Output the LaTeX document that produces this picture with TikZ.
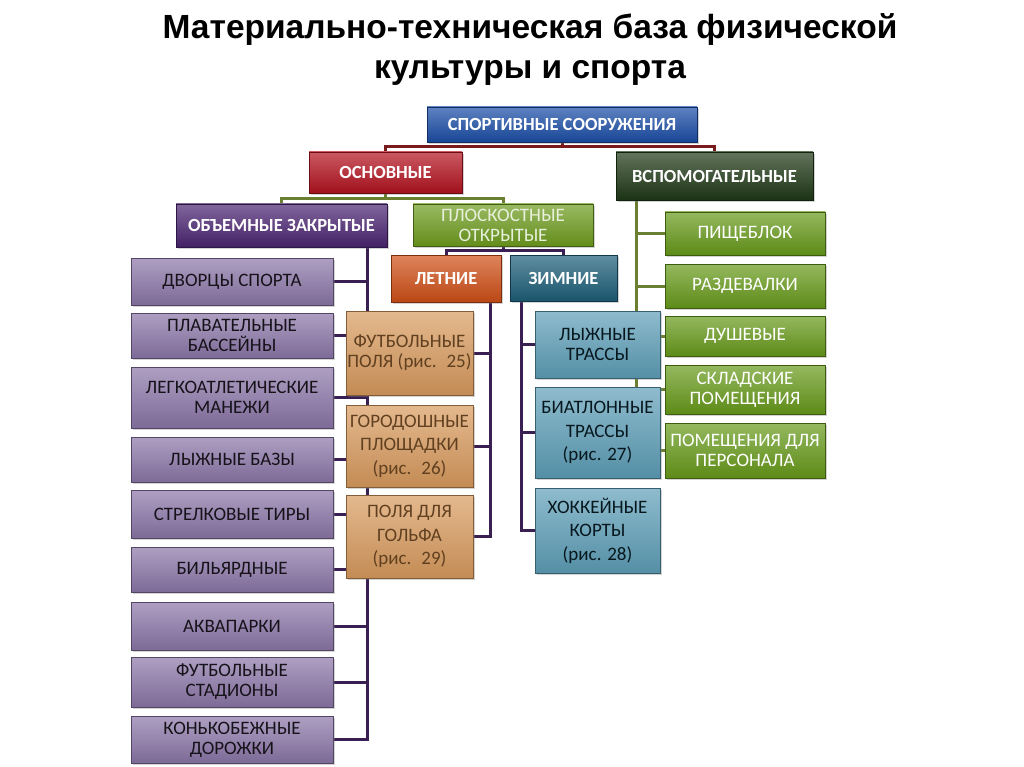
\documentclass[tikz,border=0pt]{standalone}
\usepackage{fontspec}
\setmainfont{Carlito}
\newfontfamily\titlefont{Liberation Sans}
\usetikzlibrary{shadows}
\pgfdeclarelayer{bg}
\pgfsetlayers{bg,main}
\definecolor{cblue}{HTML}{1A4DA6}
\definecolor{cred}{HTML}{B3121F}
\definecolor{cdkgreen}{HTML}{1F3816}
\definecolor{cpurple}{HTML}{4A2471}
\definecolor{colive}{HTML}{6E9C1E}
\definecolor{corred}{HTML}{CF4F17}
\definecolor{cteal}{HTML}{1C5E78}
\definecolor{clav}{HTML}{8B76A8}
\definecolor{corange}{HTML}{D99B5E}
\definecolor{cltteal}{HTML}{5E9FB8}
\definecolor{cgreen}{HTML}{679A1A}
\definecolor{lpurple}{HTML}{3A1F52}
\definecolor{lolive}{HTML}{6B7F30}
\definecolor{lred}{HTML}{7A1A1A}
\newcommand\bx[7]{\node[#6, minimum width={#4-#2}, minimum height={#5-#3}] (#1) at ({(#2+#4)/2},{(#3+#5)/2}) {#7};}
\begin{document}
\begin{tikzpicture}[x=1pt,y=-1pt,
  box/.style={rectangle, inner sep=0pt, outer sep=0pt, align=center,
    top color=#1!70!white, bottom color=#1!90!black, draw=#1!60!black, line width=0.6pt,
    drop shadow={opacity=0.35, shadow xshift=2pt, shadow yshift=-2pt}},
  lbl/.style={font=\fontsize{19}{20}\selectfont},
  lbl3/.style={font=\fontsize{19}{23.5}\selectfont},
  hdr/.style={font=\bfseries\fontsize{18.5}{20}\selectfont, text=white},
  con/.style={line width=3pt, draw=#1},
]
\useasboundingbox (0,0) rectangle (1024,767);
\node[font=\titlefont\bfseries\fontsize{33.5}{40}\selectfont, align=center] (title) at (530,50)
  {Материально-техническая база физической\\культуры и спорта};
% level 1-3
\bx{spo}{427}{107}{697}{142}{box=cblue, hdr}{СПОРТИВНЫЕ СООРУЖЕНИЯ}
\bx{osn}{309}{152}{462}{193}{box=cred, hdr}{ОСНОВНЫЕ}
\bx{vsp}{616}{152}{813}{200}{box=cdkgreen, hdr}{ВСПОМОГАТЕЛЬНЫЕ}
\bx{obj}{176}{204}{387}{247}{box=cpurple, hdr}{ОБЪЕМНЫЕ ЗАКРЫТЫЕ}
\bx{plo}{413}{204}{593}{246}{box=colive, lbl, text=white!85!colive}{ПЛОСКОСТНЫЕ\\ОТКРЫТЫЕ}
\bx{let}{391}{255}{501}{302}{box=corred, hdr}{ЛЕТНИЕ}
\bx{zim}{510}{255}{617}{301}{box=cteal, hdr}{ЗИМНИЕ}
% purple column
\bx{p1}{131}{258}{333}{305}{box=clav, lbl, text=black!85!clav}{ДВОРЦЫ СПОРТА}
\bx{p2}{131}{313}{333}{358}{box=clav, lbl, text=black!85!clav}{ПЛАВАТЕЛЬНЫЕ\\БАССЕЙНЫ}
\bx{p3}{131}{367}{333}{428}{box=clav, lbl, text=black!85!clav}{ЛЕГКОАТЛЕТИЧЕСКИЕ\\МАНЕЖИ}
\bx{p4}{131}{437}{333}{482}{box=clav, lbl, text=black!85!clav}{ЛЫЖНЫЕ БАЗЫ}
\bx{p5}{131}{490}{333}{538}{box=clav, lbl, text=black!85!clav}{СТРЕЛКОВЫЕ ТИРЫ}
\bx{p6}{131}{547}{333}{592}{box=clav, lbl, text=black!85!clav}{БИЛЬЯРДНЫЕ}
\bx{p7}{131}{602}{333}{650}{box=clav, lbl, text=black!85!clav}{АКВАПАРКИ}
\bx{p8}{131}{657}{333}{707}{box=clav, lbl, text=black!85!clav}{ФУТБОЛЬНЫЕ\\СТАДИОНЫ}
\bx{p9}{131}{716}{333}{763}{box=clav, lbl, text=black!85!clav}{КОНЬКОБЕЖНЫЕ\\ДОРОЖКИ}
% orange column
\bx{o1}{346}{311}{473}{395}{box=corange, lbl, text=black!50!brown}{ФУТБОЛЬНЫЕ\\ПОЛЯ (рис.~ 25)}
\bx{o2}{346}{405}{473}{487}{box=corange, lbl3, text=black!50!brown}{ГОРОДОШНЫЕ\\ПЛОЩАДКИ\\(рис.~ 26)}
\bx{o3}{346}{495}{473}{578}{box=corange, lbl3, text=black!50!brown}{ПОЛЯ ДЛЯ\\ГОЛЬФА\\(рис.~ 29)}
% teal column
\bx{t1}{535}{311}{660}{378}{box=cltteal, lbl, text=black!75!cteal}{ЛЫЖНЫЕ\\ТРАССЫ}
\bx{t2}{535}{387}{660}{478}{box=cltteal, lbl3, text=black!75!cteal}{БИАТЛОННЫЕ\\ТРАССЫ\\(рис. 27)}
\bx{t3}{535}{488}{660}{573}{box=cltteal, lbl3, text=black!75!cteal}{ХОККЕЙНЫЕ\\КОРТЫ\\(рис. 28)}
% green column
\bx{g1}{665}{212}{825}{255}{box=cgreen, lbl, text=white}{ПИЩЕБЛОК}
\bx{g2}{665}{264}{825}{308}{box=cgreen, lbl, text=white}{РАЗДЕВАЛКИ}
\bx{g3}{665}{316}{825}{356}{box=cgreen, lbl, text=white}{ДУШЕВЫЕ}
\bx{g4}{665}{365}{825}{414}{box=cgreen, lbl, text=white}{СКЛАДСКИЕ\\ПОМЕЩЕНИЯ}
\bx{g5}{665}{423}{825}{478}{box=cgreen, lbl, text=white}{ПОМЕЩЕНИЯ ДЛЯ\\ПЕРСОНАЛА}
% connectors
\begin{pgfonlayer}{bg}
\draw[con=lred] (spo.south) -- ++(0,5) coordinate (j1) -| (osn.north);
\draw[con=lred] (j1) -| (vsp.north);
\draw[con=lolive] (osn.south) -- ++(0,6) coordinate (j2) -| (obj.north);
\draw[con=lolive] (j2) -| (plo.north);
\draw[con=lpurple] (plo.south) -- ++(0,4) coordinate (j3) -| (let.north);
\draw[con=lpurple] (j3) -| (zim.north);
\coordinate (ob) at ([xshift=-20pt]obj.south east);
\foreach \n in {p1,p2,p3,p4,p5,p6,p7,p8,p9} \draw[con=lpurple] (ob) |- (\n.east);
\coordinate (lt) at ([xshift=-11pt]let.south east);
\foreach \n in {o1,o2,o3} \draw[con=lpurple] (lt) |- (\n.east);
\coordinate (zt) at ([xshift=11pt]zim.south west);
\foreach \n in {t1,t2,t3} \draw[con=lpurple] (zt) |- (\n.west);
\coordinate (vt) at ([xshift=20pt]vsp.south west);
\foreach \n in {g1,g2,g3,g4,g5} \draw[con=lolive] (vt) |- (\n.west);
\end{pgfonlayer}
\end{tikzpicture}
\end{document}
